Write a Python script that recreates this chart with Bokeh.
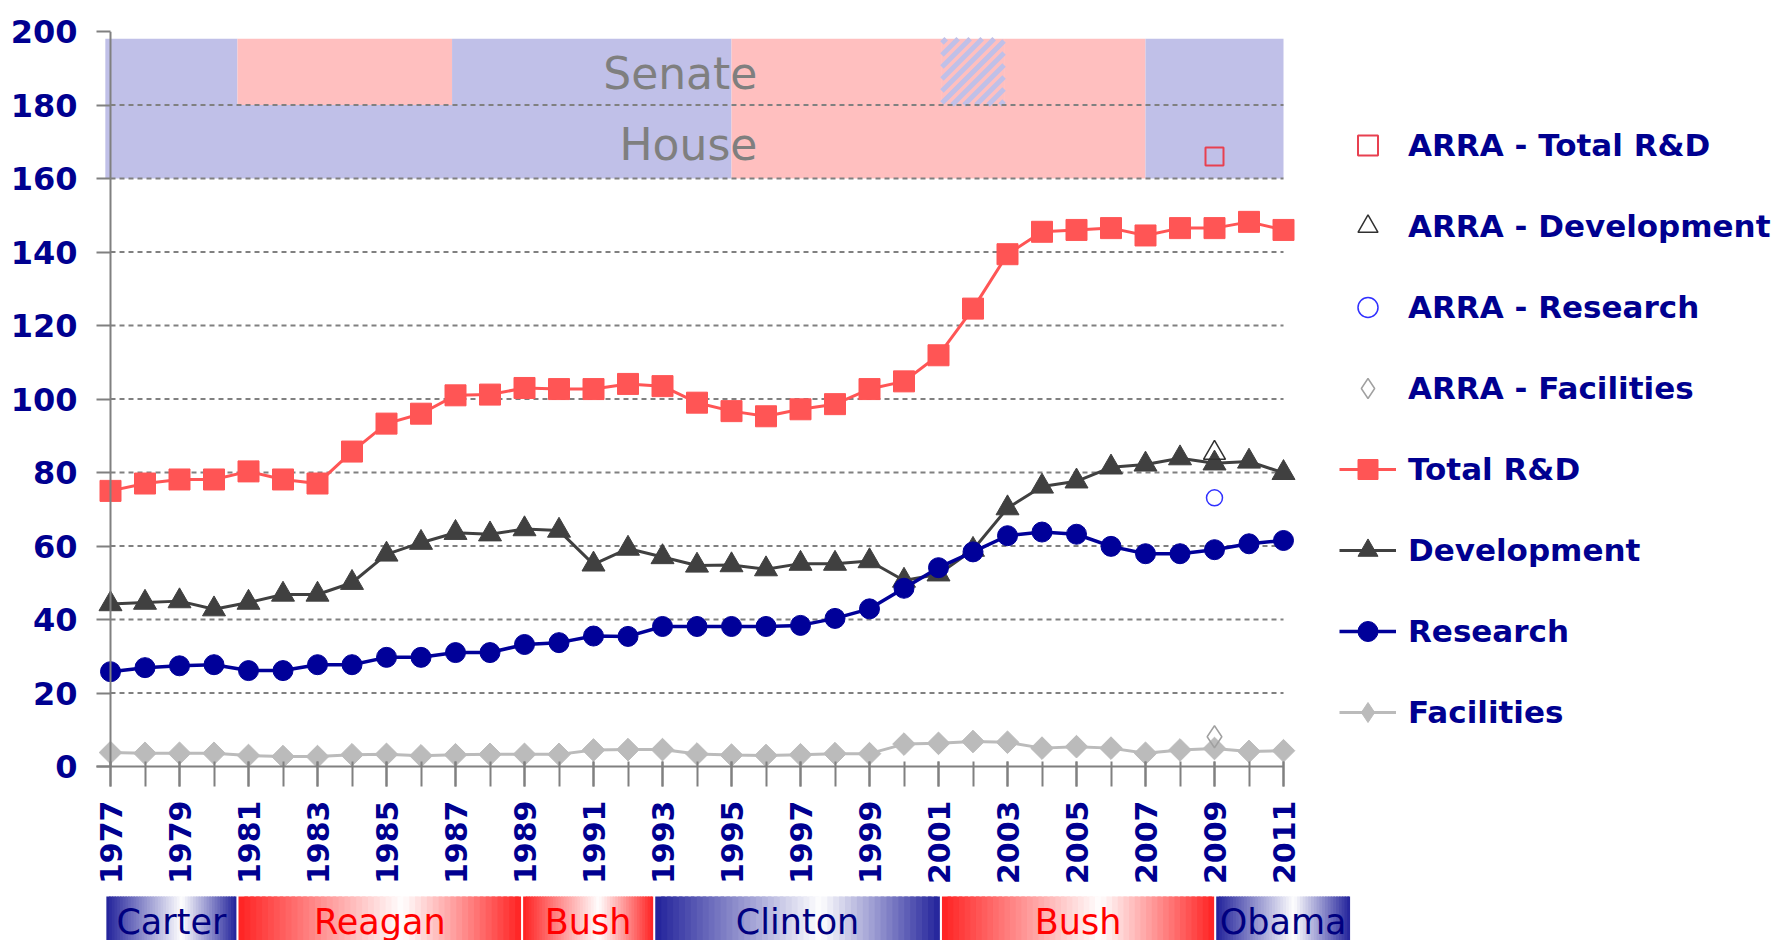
import math
from bokeh.plotting import figure
from bokeh.models import Range1d, FixedTicker, Span, Legend, LegendItem
from bokeh.layouts import column
from bokeh.embed import file_html
from bokeh.resources import INLINE
from bokeh.core.properties import value

# ---------------- data ----------------
years = list(range(1977, 2012))
total_rd = [75.0, 77.0, 78.1, 78.1, 80.3, 78.1, 77.0, 85.7, 93.3, 96.0, 101.0, 101.2, 103.0, 102.7,
            102.7, 104.1, 103.5, 99.0, 96.7, 95.3, 97.2, 98.6, 102.7, 104.8, 111.9, 124.6, 139.4,
            145.5, 146.0, 146.5, 144.5, 146.5, 146.5, 148.2, 146.0]
development = [44.2, 44.6, 45.0, 42.8, 44.6, 46.8, 46.8, 50.0, 57.7, 60.9, 63.6, 63.2, 64.6, 64.2,
               55.0, 59.3, 57.0, 54.7, 54.8, 53.7, 55.2, 55.2, 55.9, 50.6, 52.3, 59.0, 70.3, 76.2,
               77.6, 81.4, 82.2, 83.9, 82.5, 83.0, 79.9]
research = [25.8, 26.9, 27.4, 27.7, 26.1, 26.1, 27.7, 27.7, 29.7, 29.7, 31.0, 31.0, 33.2, 33.7,
            35.5, 35.4, 38.1, 38.1, 38.1, 38.1, 38.4, 40.3, 42.9, 48.5, 54.1, 58.4, 62.8, 63.8,
            63.2, 59.9, 57.9, 57.9, 59.0, 60.6, 61.5]
facilities = [3.8, 3.6, 3.6, 3.6, 3.0, 2.7, 2.7, 3.2, 3.3, 2.9, 3.2, 3.3, 3.3, 3.3, 4.5, 4.6, 4.6,
              3.4, 3.1, 3.0, 3.2, 3.5, 3.5, 6.1, 6.3, 6.8, 6.6, 5.0, 5.4, 5.0, 3.6, 4.5, 4.9, 4.1, 4.3]

arra_year = [2009]
arra_total = [166.0]
arra_development = [85.3]
arra_research = [73.1]
arra_facilities = [8.1]

y_ticks = [0, 20, 40, 60, 80, 100, 120, 140, 160, 180, 200]
x_label_years = list(range(1977, 2012, 2))

# Congress control bands (D = Democrat, R = Republican, S = split)
senate_start = [1976.85, 1980.68, 1986.9, 1995.0, 2001.1, 2002.9, 2007.0]
senate_end = [1980.68, 1986.9, 1995.0, 2001.1, 2002.9, 2007.0, 2011.0]
senate_party = ["D", "R", "D", "R", "S", "R", "D"]
house_start = [1976.85, 1995.0, 2007.0]
house_end = [1995.0, 2007.0, 2011.0]
house_party = ["D", "R", "D"]
band_house = (160, 180)
band_senate = (180, 198)
chamber_labels = ["Senate", "House"]
chamber_label_y = [188.5, 169.3]

# Presidents
pres_names = ["Carter", "Reagan", "Bush", "Clinton", "Bush", "Obama"]
pres_party = ["D", "R", "R", "D", "R", "D"]
pres_start = [1976.85, 1980.68, 1988.93, 1992.76, 2001.07, 2009.02]
pres_end = [1980.68, 1988.93, 1992.76, 2001.07, 2009.02, 2012.96]

# ---------------- style ----------------
FONT_NAME = "DejaVu Sans"
FONT = value(FONT_NAME)
NAVY = "#000090"
GRAY = "#808080"
BLUE_BAND = "#C0C0E8"
RED_BAND = "#FFBFBF"
BAND_COL = {"D": BLUE_BAND, "R": RED_BAND, "S": RED_BAND}
C_TOTAL = "#FF5555"
C_DEV = "#404040"
C_RES = "#000099"
C_FAC = "#BBBBBB"

PX_PER_YEAR = 34.5
PX_PER_UNIT = 735 / 200.0
W = 1785
LEFT = 96
X0 = years[0] - 14 / PX_PER_YEAR
x_end = X0 + (W - LEFT) / PX_PER_YEAR
xr = Range1d(X0, x_end)

p = figure(width=W, height=892, x_range=xr, y_range=Range1d(0, 200),
           output_backend="svg", toolbar_location=None,
           min_border_left=LEFT, min_border_right=0, min_border_top=31, min_border_bottom=126)
p.outline_line_color = None
p.xgrid.grid_line_color = None
p.ygrid.grid_line_color = None

# bands
p.quad(left=senate_start, right=senate_end, bottom=band_senate[0], top=band_senate[1],
       fill_color=[BAND_COL[s] for s in senate_party], line_color=None)
p.quad(left=house_start, right=house_end, bottom=band_house[0], top=band_house[1],
       fill_color=[BAND_COL[s] for s in house_party], line_color=None)

# diagonal stripes in the split-senate cell
sx0, sx1, sy0, sy1 = [], [], [], []
for a, b, s in zip(senate_start, senate_end, senate_party):
    if s != "S":
        continue
    wpx = (b - a) * PX_PER_YEAR
    hpx = (band_senate[1] - band_senate[0]) * PX_PER_UNIT
    c = -wpx + 4
    while c < hpx:
        xa = max(0.0, -c)
        xb = min(wpx, hpx - c)
        if xb > xa:
            sx0.append(a + xa / PX_PER_YEAR)
            sx1.append(a + xb / PX_PER_YEAR)
            sy0.append(band_senate[0] + (xa + c) / PX_PER_UNIT)
            sy1.append(band_senate[0] + (xb + c) / PX_PER_UNIT)
        c += 12
p.segment(x0=sx0, y0=sy0, x1=sx1, y1=sy1, line_color=BLUE_BAND, line_width=5)

# grid lines
grid_vals = [v for v in y_ticks if 0 < v < 200]
p.segment(x0=years[0], x1=years[-1], y0=grid_vals, y1=grid_vals,
          line_color=GRAY, line_width=2, line_dash="5 4")

# chamber labels
p.text(x=[1995.75] * 2, y=chamber_label_y, text=chamber_labels, text_align="right",
       text_baseline="middle", text_font=FONT, text_font_size="44px", text_color="#7F7F7F")

# y-axis line
p.add_layout(Span(location=years[0], dimension="height", line_color=GRAY, line_width=2))

# series
DIAMOND_ANGLE = math.pi / 4
l_fac = p.line(years, facilities, line_color=C_FAC, line_width=3)
k_fac = p.scatter(years, facilities, marker="diamond", size=20, fill_color=C_FAC, line_color=C_FAC)
m_fac = p.scatter(years, facilities, marker="square", angle=DIAMOND_ANGLE, size=16,
                  fill_color=C_FAC, line_color=C_FAC)
l_dev = p.line(years, development, line_color=C_DEV, line_width=3)
m_dev = p.scatter(years, development, marker="triangle", size=23, fill_color=C_DEV, line_color=C_DEV)
l_res = p.line(years, research, line_color=C_RES, line_width=3.5)
m_res = p.scatter(years, research, marker="circle", size=20, fill_color=C_RES, line_color=C_RES)
l_tot = p.line(years, total_rd, line_color=C_TOTAL, line_width=3)
m_tot = p.scatter(years, total_rd, marker="square", size=21, fill_color=C_TOTAL, line_color=C_TOTAL)

a_tot = p.scatter(arra_year, arra_total, marker="square", size=18, fill_color=None,
                  line_color="#E84050", line_width=2)
a_dev = p.scatter(arra_year, arra_development, marker="triangle", size=22, fill_color=None,
                  line_color="#303030", line_width=1.5)
a_res = p.scatter(arra_year, arra_research, marker="circle", size=16, fill_color=None,
                  line_color="#3030FF", line_width=1.5)
a_fac = p.scatter(arra_year, arra_facilities, marker="diamond", size=22, fill_color=None,
                  line_color="#A0A0A0", line_width=1.5)

# axes
p.yaxis.ticker = FixedTicker(ticks=y_ticks)
p.yaxis.axis_line_color = None
p.yaxis.major_tick_in = 14
p.yaxis.major_tick_out = 0
p.yaxis.major_tick_line_color = GRAY
p.yaxis.major_tick_line_width = 2
p.yaxis.minor_tick_line_color = None
p.yaxis.major_label_standoff = 19
p.yaxis.major_label_text_font = FONT_NAME
p.yaxis.major_label_text_font_size = "32px"
p.yaxis.major_label_text_font_style = "bold"
p.yaxis.major_label_text_color = NAVY

p.xaxis.ticker = FixedTicker(ticks=x_label_years, minor_ticks=years)
p.xaxis.bounds = (X0, years[-1])
p.xaxis.axis_line_color = GRAY
p.xaxis.axis_line_width = 2
p.xaxis.major_tick_in = 5
p.xaxis.major_tick_out = 20
p.xaxis.minor_tick_in = 5
p.xaxis.minor_tick_out = 20
p.xaxis.major_tick_line_color = GRAY
p.xaxis.minor_tick_line_color = GRAY
p.xaxis.major_tick_line_width = 2
p.xaxis.minor_tick_line_width = 2
p.xaxis.major_label_orientation = math.pi / 2
p.xaxis.major_label_standoff = 14
p.xaxis.major_label_text_font = FONT_NAME
p.xaxis.major_label_text_font_size = "30px"
p.xaxis.major_label_text_font_style = "bold"
p.xaxis.major_label_text_color = NAVY

legend = Legend(items=[
    LegendItem(label="ARRA - Total R&D", renderers=[a_tot]),
    LegendItem(label="ARRA - Development", renderers=[a_dev]),
    LegendItem(label="ARRA - Research", renderers=[a_res]),
    LegendItem(label="ARRA - Facilities", renderers=[a_fac]),
    LegendItem(label="Total R&D", renderers=[l_tot, m_tot]),
    LegendItem(label="Development", renderers=[l_dev, m_dev]),
    LegendItem(label="Research", renderers=[l_res, m_res]),
    LegendItem(label="Facilities", renderers=[l_fac, k_fac]),
], location=(1339 - LEFT, 29), orientation="vertical", padding=0, margin=0, spacing=31,
    glyph_width=57, glyph_height=50, label_height=50, label_standoff=12,
    label_text_font=FONT_NAME, label_text_font_size="31px", label_text_font_style="bold",
    label_text_color=NAVY, background_fill_alpha=0, border_line_alpha=0)
p.add_layout(legend, "center")

# ---------------- presidents bar ----------------
p2 = figure(width=W, height=48, x_range=xr, y_range=Range1d(0, 48),
            output_backend="svg", toolbar_location=None,
            min_border_left=LEFT, min_border_right=0, min_border_top=0, min_border_bottom=0)
p2.outline_line_color = None
p2.axis.visible = False
p2.grid.visible = False

EDGE = {"D": (34, 34, 155), "R": (255, 34, 34)}
TXT = {"D": "#000080", "R": "#FF0000"}
NSL = 48
PEAK = 0.58
gl, gr, gc = [], [], []
for s, e, party in zip(pres_start, pres_end, pres_party):
    s2 = s + 0.03
    e2 = e - 0.03
    step = (e2 - s2) / NSL
    for i in range(NSL):
        t = (i + 0.5) / NSL
        w = t / PEAK if t < PEAK else (1 - t) / (1 - PEAK)
        w = max(0.0, min(1.0, w))
        r, g, b = EDGE[party]
        col = "#%02x%02x%02x" % (int(r + (255 - r) * w), int(g + (255 - g) * w), int(b + (255 - b) * w))
        gl.append(s2 + i * step)
        gr.append(min(e2, s2 + (i + 1) * step + step * 0.6))
        gc.append(col)
p2.quad(left=gl, right=gr, bottom=0, top=44, fill_color=gc, line_color=None)
p2.text(x=[(s + e) / 2 for s, e in zip(pres_start, pres_end)], y=[19] * len(pres_names),
        text=pres_names, text_align="center", text_baseline="middle", text_font=FONT,
        text_font_size="35px", text_color=[TXT[q] for q in pres_party])

layout = column(p, p2, spacing=0)
open("out.html", "w").write(file_html(layout, INLINE))
